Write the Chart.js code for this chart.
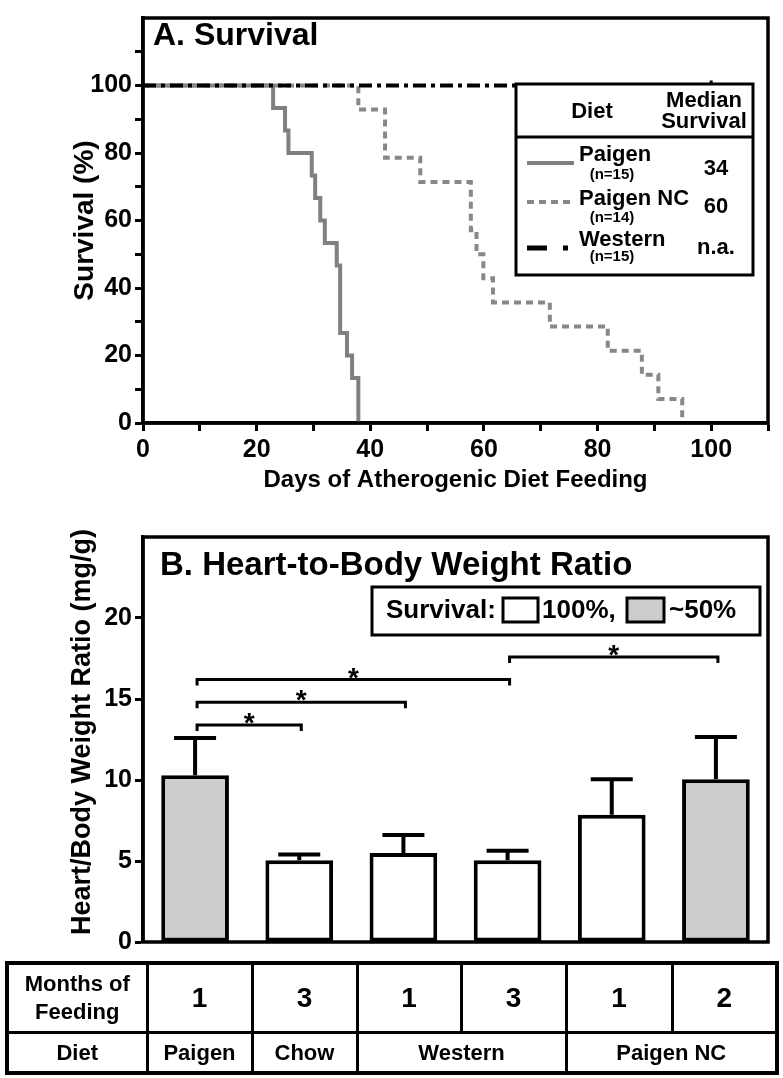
<!DOCTYPE html>
<html>
<head>
<meta charset="utf-8">
<script src="https://cdn.jsdelivr.net/npm/chart.js@4.4.0/dist/chart.umd.min.js"></script>
<style>
  body { margin: 0; background: #fff; }
  #page { position: relative; width: 783px; height: 1078px; font-family: "Liberation Sans", Arial, sans-serif; }
  #page canvas { position: absolute; left: 0; }
  #survivalChart { top: 0; }
  #heartChart { top: 490px; }
  #feedingTable {
    position: absolute; left: 5px; top: 961px;
    border-collapse: collapse; table-layout: fixed; width: 772px;
    border: 4px solid #000; font-weight: bold; color: #000;
  }
  #feedingTable td, #feedingTable th { border: 3px solid #000; text-align: center; padding: 0; font-weight: bold; }
  #feedingTable tr.months td, #feedingTable tr.months th { height: 66px; }
  #feedingTable tr.diet td, #feedingTable tr.diet th { height: 37px; font-size: 22px; }
  #feedingTable tr.months th { font-size: 22px; line-height: 28px; }
  #feedingTable tr.months td { font-size: 28px; }
</style>
</head>
<body>
<div id="page">
  <canvas id="survivalChart" width="783" height="500"></canvas>
  <canvas id="heartChart" width="783" height="470"></canvas>
  <table id="feedingTable"></table>
</div>
<script>
// A. survival: (day, % alive) after each death
const paigenDays       = [0, 22.9, 25, 25.6, 29.7, 30.3, 31.2, 32, 34.1, 34.7, 35.9, 36.8, 37.9];
const paigenSurvival   = [100, 93.3, 86.7, 80, 73.3, 66.7, 60, 53.3, 46.7, 26.7, 20, 13.3, 0];
const paigenNcDays     = [0, 37.9, 42.6, 48.8, 57.7, 58.7, 59.9, 61.6, 71.6, 81.8, 87.8, 90.7, 94.9];
const paigenNcSurvival = [100, 92.9, 78.6, 71.4, 57.1, 50, 42.9, 35.7, 28.6, 21.4, 14.3, 7.1, 0];
const westernDays      = [0, 100];
const westernSurvival  = [100, 100];

const dietNames    = ['Paigen', 'Paigen NC', 'Western'];
const dietN        = ['(n=15)', '(n=14)', '(n=15)'];
const medianSurv   = ['34', '60', 'n.a.'];

// B. heart/body weight ratio
const months        = ['1', '3', '1', '3', '1', '2'];
const diets         = ['Paigen', 'Chow', 'Western', 'Western', 'Paigen NC', 'Paigen NC'];
const heartRatio    = [10.3, 5.05, 5.5, 5.05, 7.85, 10.05];
const heartSem      = [2.3, 0.35, 1.1, 0.58, 2.2, 2.6];
const survivalGroup = ['~50%', '100%', '100%', '100%', '100%', '~50%'];
const sigFrom  = [0, 0, 0, 3];
const sigTo    = [1, 2, 3, 5];
const sigLevel = [13.4, 14.8, 16.2, 17.6];

const FONT = '"Liberation Sans", Arial, sans-serif';
Chart.defaults.font.family = FONT;
Chart.defaults.color = '#000';

function toPoints(xs, ys) {
  return xs.map((x, i) => ({ x: x, y: ys[i] }));
}

// box round the plot area
const frame = {
  id: 'frame',
  afterDraw(chart) {
    const { ctx, chartArea: a } = chart;
    ctx.save();
    ctx.lineWidth = 3.5;
    ctx.strokeStyle = '#000';
    ctx.strokeRect(a.left, a.top, a.right - a.left, a.bottom - a.top);
    ctx.restore();
  }
};

const survivalDecor = {
  id: 'survivalDecor',
  afterDraw(chart) {
    const ctx = chart.ctx;
    const a = chart.chartArea;
    ctx.save();
    ctx.fillStyle = '#000';
    ctx.font = 'bold 32px ' + FONT;
    ctx.textAlign = 'left';
    ctx.textBaseline = 'alphabetic';
    ctx.fillText('A. Survival', a.left + 10, 45);

    // legend table
    const bx = 516, by = 84, bw = 237, bh = 191;
    ctx.fillStyle = '#fff';
    ctx.fillRect(bx, by, bw, bh);
    ctx.lineWidth = 3;
    ctx.strokeStyle = '#000';
    ctx.strokeRect(bx, by, bw, bh);
    ctx.beginPath();
    ctx.moveTo(bx, 137);
    ctx.lineTo(bx + bw, 137);
    ctx.stroke();

    ctx.fillStyle = '#000';
    ctx.textAlign = 'center';
    ctx.textBaseline = 'middle';
    ctx.font = 'bold 22px ' + FONT;
    ctx.fillText('Diet', 592, 112);
    ctx.fillText('Median', 704, 101);
    ctx.fillText('Survival', 704, 122);

    const nameY = [155, 199, 240];
    const sampleY = [163, 202, 248];
    const valueY = [169, 207, 248];
    const nY = [175, 218, 257];
    const ds = [chart.data.datasets[1], chart.data.datasets[2], chart.data.datasets[0]];
    dietNames.forEach((name, i) => {
      const d = ds[i];
      ctx.save();
      ctx.strokeStyle = d.borderColor;
      ctx.lineWidth = d.borderWidth;
      if (name === 'Western') {
        ctx.lineWidth = 5;
        ctx.beginPath();
        ctx.moveTo(527, sampleY[i]); ctx.lineTo(547, sampleY[i]);
        ctx.moveTo(563, sampleY[i]); ctx.lineTo(568, sampleY[i]);
        ctx.stroke();
      } else {
        ctx.setLineDash(d.borderDash || []);
        ctx.beginPath();
        ctx.moveTo(527, sampleY[i]); ctx.lineTo(574, sampleY[i]);
        ctx.stroke();
      }
      ctx.restore();
      ctx.textAlign = 'left';
      ctx.font = 'bold 22px ' + FONT;
      ctx.fillText(name, 579, nameY[i]);
      ctx.textAlign = 'center';
      ctx.font = 'bold 15px ' + FONT;
      ctx.fillText(dietN[i], 612, nY[i]);
      ctx.font = 'bold 22px ' + FONT;
      ctx.fillText(medianSurv[i], 716, valueY[i]);
    });
    ctx.restore();
  }
};

new Chart(document.getElementById('survivalChart'), {
  type: 'line',
  data: {
    datasets: [
      {
        label: 'Western',
        data: toPoints(westernDays, westernSurvival),
        borderColor: '#000',
        borderWidth: 4,
        borderDash: [13, 5, 4, 5],
        pointRadius: [0, 5],
        pointStyle: 'line',
        rotation: 90,
        pointBorderWidth: 3,
        pointBorderColor: '#000',
        order: 0
      },
      {
        label: 'Paigen',
        data: toPoints(paigenDays, paigenSurvival),
        borderColor: '#808080',
        borderWidth: 4,
        stepped: 'before',
        pointRadius: 0,
        order: 2
      },
      {
        label: 'Paigen NC',
        data: toPoints(paigenNcDays, paigenNcSurvival),
        borderColor: '#888888',
        borderWidth: 4,
        borderDash: [7, 5],
        stepped: 'before',
        pointRadius: 0,
        order: 1
      }
    ]
  },
  options: {
    responsive: false,
    animation: false,
    devicePixelRatio: 1,
    layout: { padding: { top: 6, right: 15, left: 0, bottom: 0 } },
    plugins: { legend: { display: false }, tooltip: { enabled: false } },
    scales: {
      x: {
        type: 'linear',
        min: 0,
        max: 110,
        afterFit: s => { s.height = 77; },
        ticks: {
          stepSize: 10,
          autoSkip: false,
          maxRotation: 0,
          padding: 4,
          font: { size: 25, weight: 'bold' },
          callback: v => (v % 20 === 0 && v <= 100) ? v : ''
        },
        grid: { drawOnChartArea: false, tickLength: 8, tickWidth: 3, tickColor: '#000' },
        border: { display: true, color: '#000', width: 3.5 },
        title: {
          display: true,
          text: 'Days of Atherogenic Diet Feeding',
          font: { size: 24, weight: 'bold' },
          padding: { bottom: 5 }
        }
      },
      y: {
        min: 0,
        max: 120,
        afterFit: s => { s.width = 143; },
        ticks: {
          stepSize: 10,
          autoSkip: false,
          padding: 3,
          font: { size: 25, weight: 'bold' },
          callback: v => (v % 20 === 0 && v <= 100) ? v : ''
        },
        grid: {
          drawOnChartArea: false, tickLength: 8, tickWidth: 3,
          tickColor: c => (c.tick && c.tick.value > 110) ? 'rgba(0,0,0,0)' : '#000'
        },
        border: { display: true, color: '#000', width: 3.5 },
        title: {
          display: true,
          text: 'Survival (%)',
          font: { size: 28, weight: 'bold' },
          padding: { top: 68 }
        }
      }
    }
  },
  plugins: [frame, survivalDecor]
});

// error bars, brackets, legend and titles of panel B
const heartDecor = {
  id: 'heartDecor',
  afterDatasetsDraw(chart) {
    const ctx = chart.ctx;
    const y = chart.scales.y;
    const bars = chart.getDatasetMeta(0).data;
    ctx.save();
    ctx.strokeStyle = '#000';
    ctx.lineWidth = 4;
    bars.forEach((bar, i) => {
      const top = y.getPixelForValue(heartRatio[i] + heartSem[i]);
      ctx.beginPath();
      ctx.moveTo(bar.x, bar.y);
      ctx.lineTo(bar.x, top);
      ctx.moveTo(bar.x - 21, top);
      ctx.lineTo(bar.x + 21, top);
      ctx.stroke();
    });

    ctx.lineWidth = 3;
    ctx.fillStyle = '#000';
    ctx.textAlign = 'center';
    ctx.textBaseline = 'alphabetic';
    ctx.font = 'bold 28px ' + FONT;
    sigLevel.forEach((lvl, k) => {
      const x1 = bars[sigFrom[k]].x + 2;
      const x2 = bars[sigTo[k]].x + 2;
      const ly = y.getPixelForValue(lvl);
      ctx.beginPath();
      ctx.moveTo(x1, ly + 6);
      ctx.lineTo(x1, ly);
      ctx.lineTo(x2, ly);
      ctx.lineTo(x2, ly + 6);
      ctx.stroke();
      ctx.fillText('*', (x1 + x2) / 2, ly + 7);
    });
    ctx.restore();
  },
  afterDraw(chart) {
    const ctx = chart.ctx;
    const a = chart.chartArea;
    ctx.save();
    ctx.fillStyle = '#000';
    ctx.font = 'bold 33px ' + FONT;
    ctx.textAlign = 'left';
    ctx.textBaseline = 'alphabetic';
    ctx.fillText('B. Heart-to-Body Weight Ratio', a.left + 17, 85);

    // y title
    ctx.save();
    ctx.translate(83, 242);
    ctx.rotate(-Math.PI / 2);
    ctx.textAlign = 'center';
    ctx.textBaseline = 'middle';
    ctx.font = 'bold 27px ' + FONT;
    ctx.fillText('Heart/Body Weight Ratio (mg/g)', 0, 0);
    ctx.restore();

    // survival key
    ctx.lineWidth = 3;
    ctx.strokeStyle = '#000';
    ctx.fillStyle = '#fff';
    ctx.fillRect(372, 97, 388, 48);
    ctx.strokeRect(372, 97, 388, 48);
    ctx.fillStyle = '#000';
    ctx.textBaseline = 'middle';
    ctx.font = 'bold 26px ' + FONT;
    ctx.fillText('Survival:', 386, 121);
    const fills = chart.data.datasets[0].backgroundColor;
    const white = fills[survivalGroup.indexOf('100%')];
    const grey = fills[survivalGroup.indexOf('~50%')];
    ctx.fillStyle = white;
    ctx.fillRect(503, 108, 35, 24);
    ctx.strokeRect(503, 108, 35, 24);
    ctx.fillStyle = '#000';
    ctx.fillText('100%,', 542, 121);
    ctx.fillStyle = grey;
    ctx.fillRect(627, 108, 37, 24);
    ctx.strokeRect(627, 108, 37, 24);
    ctx.fillStyle = '#000';
    ctx.fillText('~50%', 669, 121);
    ctx.restore();
  }
};

new Chart(document.getElementById('heartChart'), {
  type: 'bar',
  data: {
    labels: months,
    datasets: [{
      label: 'Heart/Body Weight Ratio',
      data: heartRatio,
      backgroundColor: survivalGroup.map(g => g === '100%' ? '#ffffff' : '#cccccc'),
      borderColor: '#000',
      borderWidth: 4,
      borderSkipped: false,
      barPercentage: 0.65,
      categoryPercentage: 1
    }]
  },
  options: {
    responsive: false,
    animation: false,
    devicePixelRatio: 1,
    layout: { padding: { top: 47, right: 15, left: 0, bottom: 8 } },
    plugins: { legend: { display: false }, tooltip: { enabled: false } },
    scales: {
      x: { display: false },
      y: {
        min: 0,
        max: 25,
        afterFit: s => { s.width = 143; },
        ticks: {
          stepSize: 5,
          autoSkip: false,
          padding: 3,
          font: { size: 25, weight: 'bold' },
          callback: v => v < 25 ? v : ''
        },
        grid: {
          drawOnChartArea: false, tickLength: 8, tickWidth: 3,
          tickColor: c => (c.tick && c.tick.value >= 25) ? 'rgba(0,0,0,0)' : '#000'
        },
        border: { display: true, color: '#000', width: 3.5 }
      }
    }
  },
  plugins: [frame, heartDecor]
});

// table under panel B
const colWidths = [140, 105, 105, 104, 105, 106, 105];
let html = '<colgroup>' + colWidths.map(w => '<col style="width:' + w + 'px">').join('') + '</colgroup>';
html += '<tr class="months"><th>Months of<br>Feeding</th>' + months.map(m => '<td>' + m + '</td>').join('') + '</tr>';
html += '<tr class="diet"><th>Diet</th>';
for (let i = 0; i < diets.length;) {
  let j = i;
  while (j < diets.length && diets[j] === diets[i]) j++;
  html += '<td colspan="' + (j - i) + '">' + diets[i] + '</td>';
  i = j;
}
html += '</tr>';
document.getElementById('feedingTable').innerHTML = html;
</script>
</body>
</html>
